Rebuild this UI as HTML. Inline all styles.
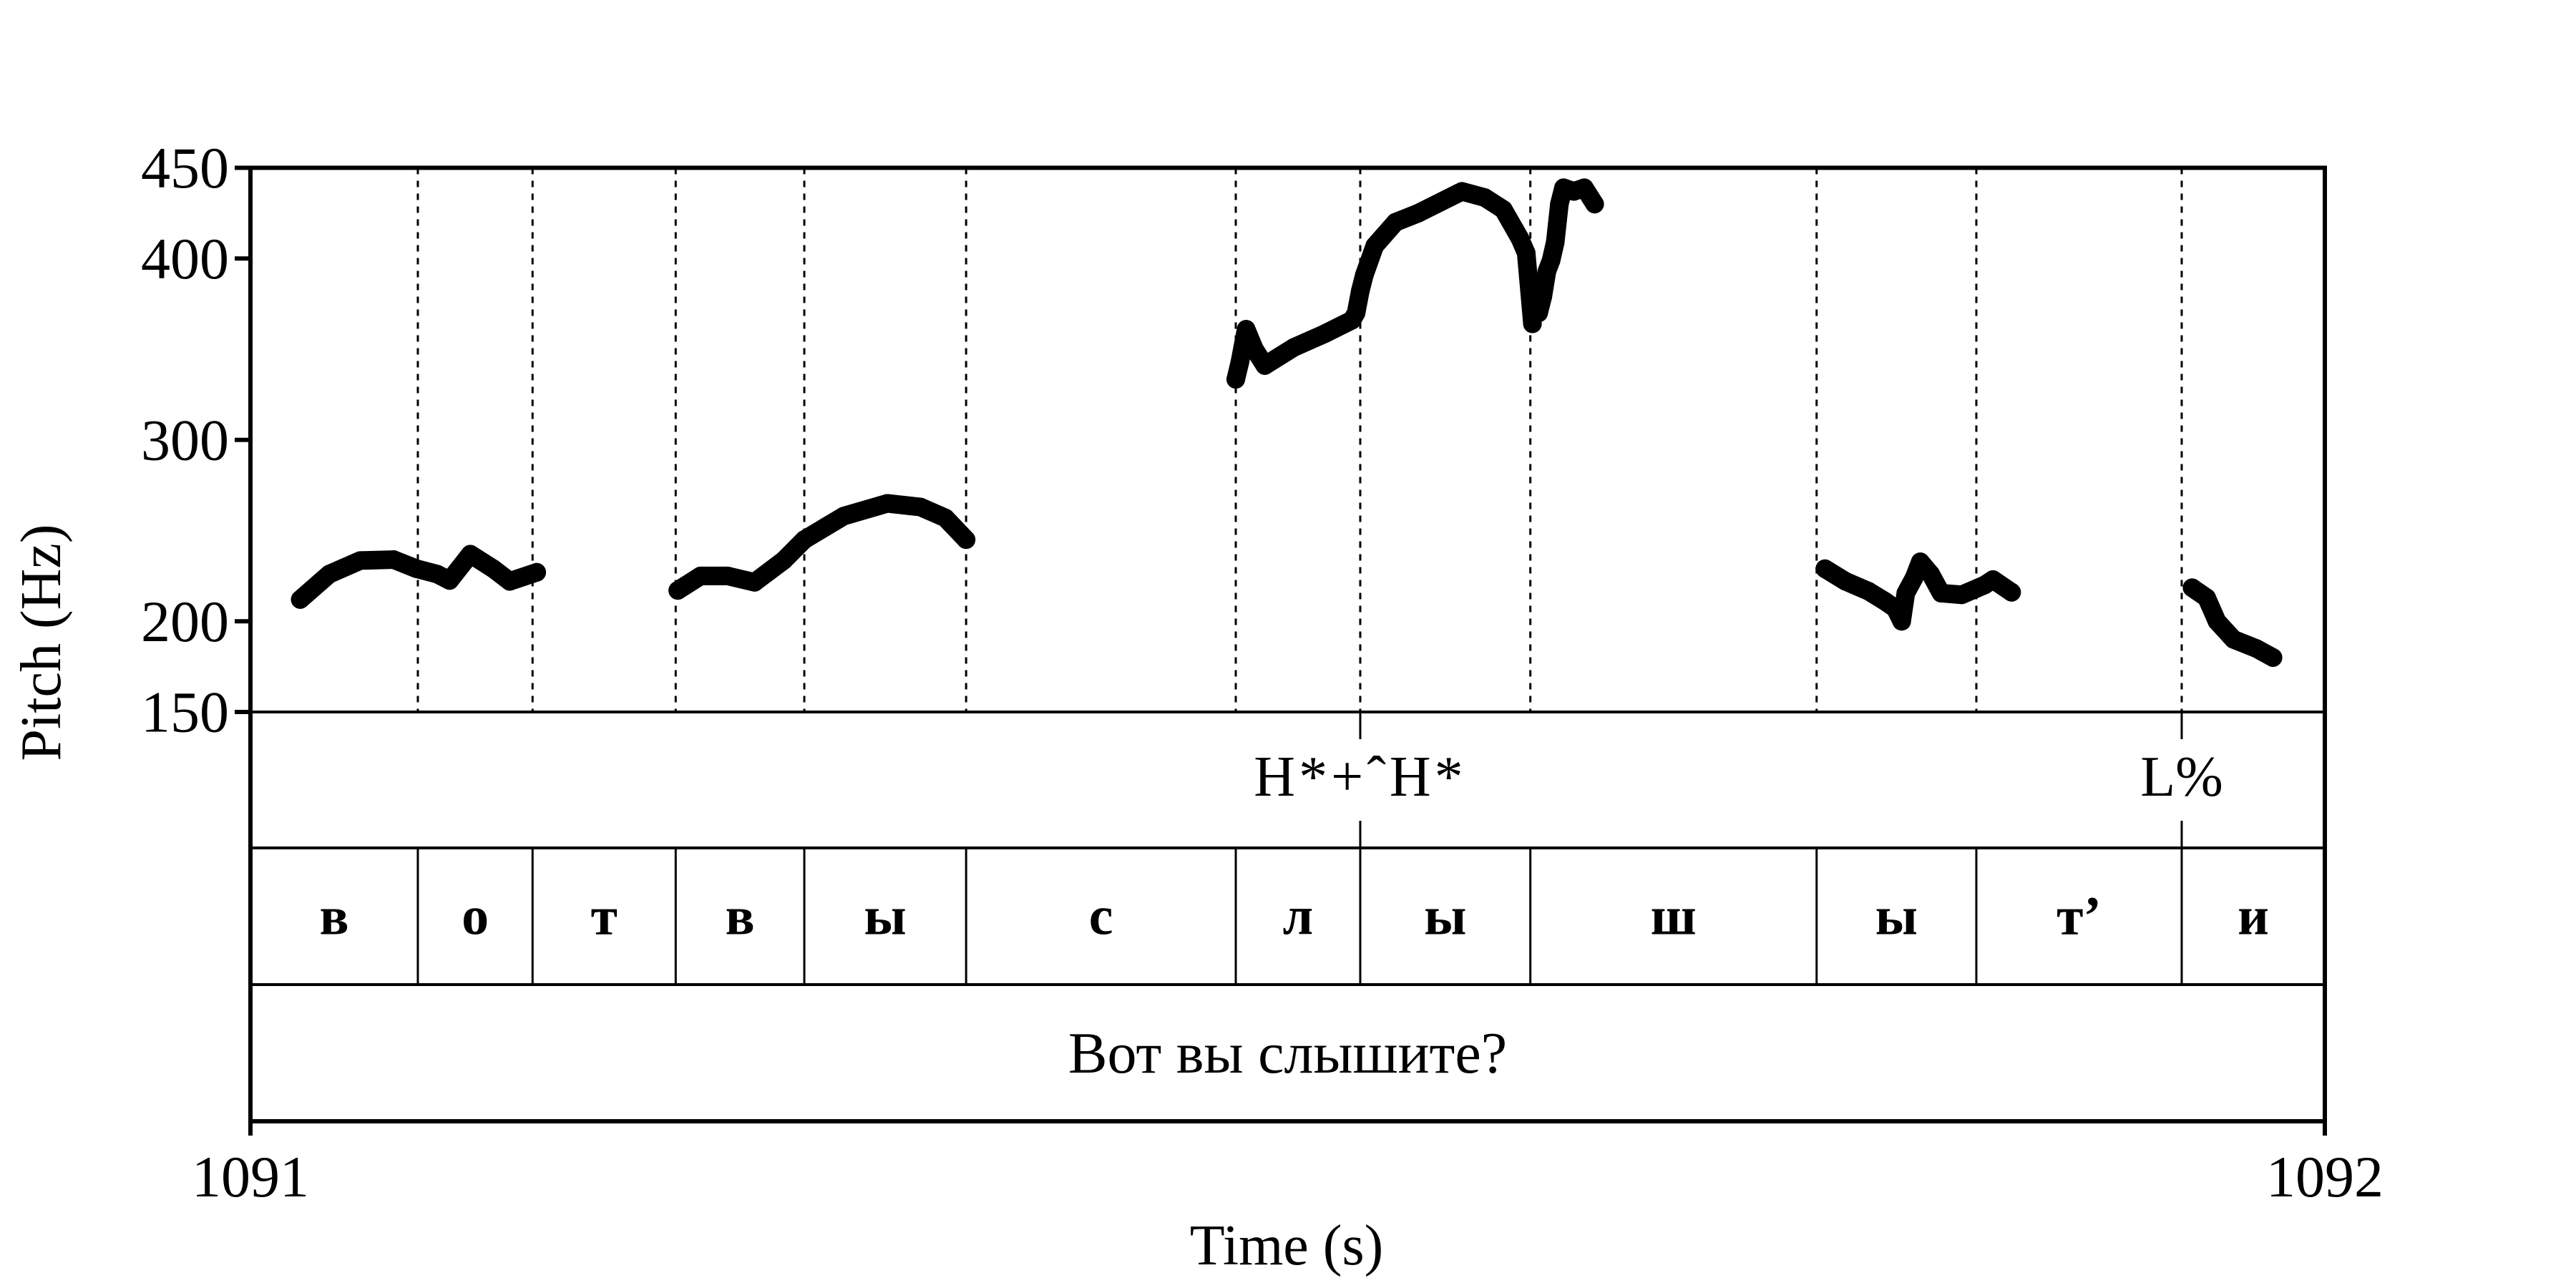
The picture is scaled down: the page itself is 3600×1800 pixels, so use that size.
<!DOCTYPE html>
<html><head><meta charset="utf-8">
<style>
html,body{margin:0;padding:0;background:#fff;}
svg{display:block;font-family:"Liberation Serif","DejaVu Serif",serif;}
</style></head>
<body>
<svg id="chart" width="3600" height="1800" viewBox="0 0 3600 1800" xmlns="http://www.w3.org/2000/svg">
<rect x="0" y="0" width="3600" height="1800" fill="#fff"/>
<g id="grid"></g>
<g id="tiers"></g>
<g id="pitch"></g>
<g id="axes"></g>
<text x="58" y="898" font-size="80" text-anchor="middle" dominant-baseline="central" transform="rotate(-90 58 898)">Pitch (Hz)</text>
<text x="1798" y="1741" font-size="80" text-anchor="middle" dominant-baseline="central">Time (s)</text>
</svg>
<script>
const yTicks = [150, 200, 300, 400, 450];
const xTickLabels = ["1091", "1092"];
const phoneBounds = [0.0807, 0.136, 0.205, 0.267, 0.345, 0.475, 0.535, 0.617, 0.755, 0.832, 0.931];
const phoneLabels = ["в","о","т","в","ы","с","л","ы","ш","ы","т’","и"];
const toneTimes = [0.535, 0.931];
const toneLabels = ["H*+ˆH*", "L%"];
const sentence = "Вот вы слышите?";
const seg1T = [.024,.038,.053,.069,.080,.090,.096,.106,.117,.125,.138];
const seg1F = [212,226,233.5,234,229,226,222.5,237,229,222,227];
const seg2T = [.206,.217,.230,.243,.257,.267,.286,.307,.323,.335,.345];
const seg2F = [217,225,225,221.5,233.5,245,258,265,263,257,245];
const seg3T = [.475,.477,.480,.484,.489,.503,.518,.531,.533,.535,.537,.542,.552,.563,.584,.595,.604,.612,.615,.616,.618];
const seg3F = [333.4,343,361,350,341,351,358.6,366,370,382,391,407,420,425,437,433.6,427,411,403,390,364];
const seg3bT = [.621,.623,.625,.627,.629,.631,.633,.638,.643,.648];
const seg3bF = [370,379,393,399,409,430,439,437,439,430];
const seg4T = [.759,.769,.780,.788,.793,.796,.798,.802,.805,.810,.815,.825,.836,.840,.849];
const seg4F = [229,222,216.6,211,207,200,215.5,224,232.8,226,215.5,214.6,220,223,216];
const seg5T = [.936,.943,.948,.956,.967,.975];
const seg5F = [218.5,213,200,190,185,180];

const NS = "http://www.w3.org/2000/svg";
const L = 350, R = 3249, TOP = 234.5, PB = 995, T1 = 1185, T2 = 1376, BOT = 1567;
const xS = t => L + t * (R - L);
const yS = f => PB - (f - 150) / 300 * (PB - TOP);
function mk(tag, attrs, parent) {
  const e = document.createElementNS(NS, tag);
  for (const k in attrs) e.setAttribute(k, attrs[k]);
  parent.appendChild(e);
  return e;
}
const grid = document.getElementById('grid');
const tiers = document.getElementById('tiers');
const pitch = document.getElementById('pitch');
const axes = document.getElementById('axes');

phoneBounds.forEach(t => {
  const l = mk('line', {x1: xS(t), x2: xS(t), y1: TOP, y2: PB, stroke: '#000', 'stroke-width': 3, 'stroke-dasharray': '9 9'}, grid);
  
  
});
[PB, T1, T2].forEach(y => {
  const l = mk('line', {x1: L, x2: R, y1: y, y2: y, stroke: '#000', 'stroke-width': 4}, tiers);
  
  
});
toneTimes.forEach((t, i) => {
  const x = xS(t);
  const a = mk('line', {x1: x, x2: x, y1: PB, y2: PB + 38, stroke: '#000', 'stroke-width': 3}, tiers);
  
  
  const b = mk('line', {x1: x, x2: x, y1: T1 - 38, y2: T1, stroke: '#000', 'stroke-width': 3}, tiers);
  
  
  const tx = mk('text', {x: x, y: (PB + T1) / 2 - 4, 'font-size': 80, 'text-anchor': 'middle', 'dominant-baseline': 'central', 'letter-spacing': i === 0 ? 5 : 0}, tiers);
  tx.textContent = toneLabels[i];
  
  
});
const edges = [0].concat(phoneBounds, [1]);
phoneBounds.forEach(t => {
  const l = mk('line', {x1: xS(t), x2: xS(t), y1: T1, y2: T2, stroke: '#000', 'stroke-width': 3}, tiers);
  
  
});
phoneLabels.forEach((p, i) => {
  const tx = mk('text', {x: (xS(edges[i]) + xS(edges[i + 1])) / 2, y: (T1 + T2) / 2, 'font-size': 76, 'font-weight': 'bold', 'text-anchor': 'middle', 'dominant-baseline': 'central'}, tiers);
  tx.textContent = p;
  
  
});
const st = mk('text', {x: (L + R) / 2, y: (T2 + BOT) / 2, 'font-size': 82, 'text-anchor': 'middle', 'dominant-baseline': 'central'}, tiers);
st.textContent = sentence;



[[seg1T, seg1F], [seg2T, seg2F], [seg3T, seg3F], [seg3bT, seg3bF], [seg4T, seg4F], [seg5T, seg5F]].forEach(([ts, fs]) => {
  const pts = ts.map((t, i) => xS(t) + ',' + yS(fs[i])).join(' ');
  const pl = mk('polyline', {points: pts, fill: 'none', stroke: '#000', 'stroke-width': 26, 'stroke-linejoin': 'round', 'stroke-linecap': 'round'}, pitch);
  
  
  ts.forEach((t, i) => {
    const c = mk('circle', {cx: xS(t), cy: yS(fs[i]), r: 13, fill: '#000'}, pitch);
    
    
  });
});

const fr = mk('path', {d: `M${L},${TOP} H${R} V${BOT} H${L} Z`, fill: 'none', stroke: '#000', 'stroke-width': 6}, axes);


yTicks.forEach(v => {
  const y = yS(v);
  const tk = mk('line', {x1: L - 22, x2: L, y1: y, y2: y, stroke: '#000', 'stroke-width': 6}, axes);
  
  
  const tx = mk('text', {x: L - 30, y: y, 'font-size': 82, 'text-anchor': 'end', 'dominant-baseline': 'central'}, axes);
  tx.textContent = v;
  
  
});
xTickLabels.forEach((lab, i) => {
  const x = i === 0 ? L : R;
  const tk = mk('line', {x1: x, x2: x, y1: BOT, y2: BOT + 20, stroke: '#000', 'stroke-width': 6}, axes);
  
  
  const tx = mk('text', {x: x, y: 1672, 'font-size': 82, 'text-anchor': 'middle'}, axes);
  tx.textContent = lab;
  
  
});
</script>
</body></html>
